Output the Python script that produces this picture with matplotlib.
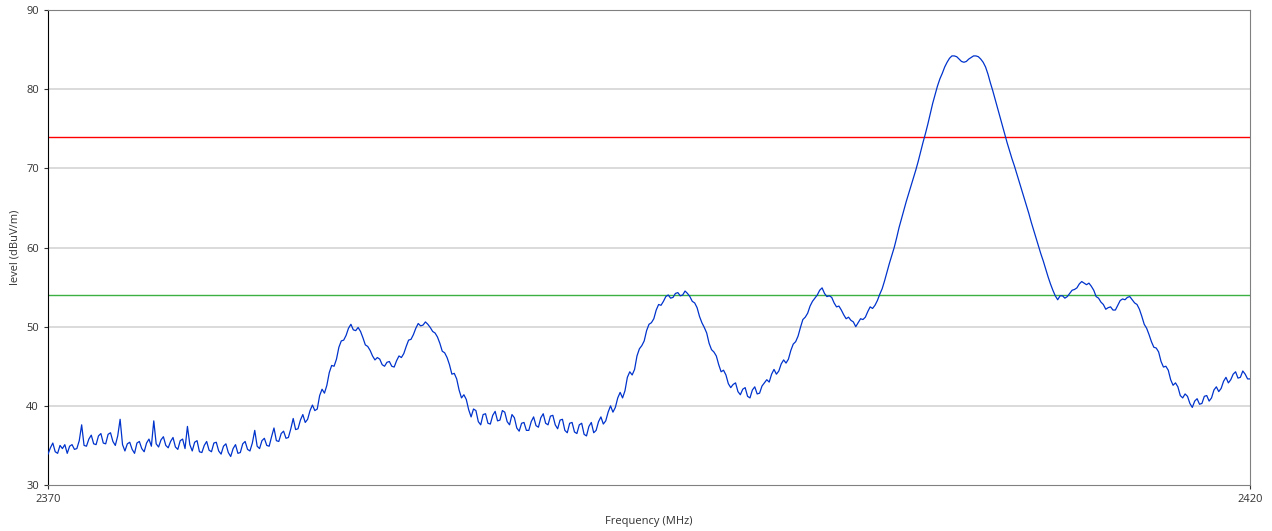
import numpy as np
import matplotlib
matplotlib.use("Agg")
import matplotlib.pyplot as plt

# trace, one value every 0.1 MHz from 2370 to 2420
# (one row per MHz)
level = [
    33.9, 34.7, 35.3, 34.2, 34.0, 35.0, 34.6, 35.1, 34.0, 34.9,  # 2370
    35.1, 34.5, 34.6, 35.6, 37.6, 35.0, 34.9, 35.8, 36.3, 35.2,
    35.1, 36.2, 36.5, 35.3, 35.2, 36.4, 36.6, 35.5, 35.0, 36.2,
    38.3, 35.1, 34.3, 35.2, 35.4, 34.5, 34.0, 35.3, 35.5, 34.6,
    34.2, 35.3, 35.8, 34.9, 38.1, 35.2, 34.8, 35.7, 36.1, 35.0,
    34.7, 35.5, 36.0, 34.8, 34.5, 35.6, 35.8, 34.6, 37.4, 35.1,  # 2375
    34.3, 35.4, 35.6, 34.2, 34.1, 35.0, 35.5, 34.4, 34.2, 35.3,
    35.4, 34.3, 33.9, 34.9, 35.2, 34.1, 33.6, 34.6, 35.1, 34.0,
    34.1, 35.2, 35.5, 34.5, 34.3, 35.3, 36.9, 34.9, 34.6, 35.6,
    35.9, 35.0, 34.9, 36.1, 37.2, 35.6, 35.5, 36.5, 36.8, 35.9,
    36.0, 37.1, 38.4, 37.0, 37.1, 38.2, 38.9, 37.9, 38.3, 39.4,  # 2380
    40.1, 39.4, 39.6, 41.3, 42.1, 41.6, 42.6, 44.2, 45.1, 45.0,
    45.9, 47.4, 48.2, 48.3, 48.9, 49.8, 50.3, 49.6, 49.5, 49.9,
    49.4, 48.6, 47.7, 47.5, 47.0, 46.3, 45.8, 46.1, 45.9, 45.2,
    45.0, 45.5, 45.6, 45.0, 44.9, 45.7, 46.3, 46.1, 46.6, 47.5,
    48.3, 48.4, 49.0, 49.8, 50.4, 50.1, 50.2, 50.6, 50.3, 49.9,  # 2385
    49.4, 49.2, 48.7, 47.9, 46.9, 46.7, 46.1, 45.2, 44.0, 44.1,
    43.4, 42.0, 41.0, 41.4, 40.8, 39.5, 38.6, 39.6, 39.4, 38.0,
    37.6, 38.9, 39.0, 37.8, 37.7, 38.8, 39.3, 38.1, 38.2, 39.4,
    39.2, 38.0, 37.6, 38.9, 38.5, 37.2, 36.8, 37.8, 37.9, 36.9,
    36.9, 38.0, 38.6, 37.5, 37.3, 38.5, 39.0, 37.8, 37.6, 38.7,  # 2390
    38.8, 37.6, 37.1, 38.2, 38.3, 36.9, 36.6, 37.8, 37.9, 36.7,
    36.5, 37.6, 37.8, 36.4, 36.2, 37.4, 37.9, 36.6, 36.9, 38.0,
    38.6, 37.7, 38.1, 39.2, 40.0, 39.2, 39.8, 41.0, 41.7, 41.0,
    41.9, 43.6, 44.3, 43.9, 44.6, 46.3, 47.2, 47.6, 48.2, 49.5,
    50.3, 50.5, 51.0, 52.1, 52.8, 52.7, 53.2, 53.8, 54.0, 53.6,  # 2395
    53.7, 54.2, 54.3, 53.9, 54.0, 54.5, 54.2, 53.8, 53.2, 53.0,
    52.4, 51.3, 50.5, 49.9, 49.2, 47.9, 47.1, 46.8, 46.3, 45.2,
    44.3, 44.5, 43.9, 42.8, 42.3, 42.7, 42.9, 41.8, 41.4, 42.1,
    42.3, 41.2, 41.0, 42.0, 42.4, 41.5, 41.6, 42.5, 42.9, 43.3,
    43.0, 44.0, 44.6, 44.0, 44.4, 45.3, 45.8, 45.4, 45.9, 47.0,  # 2400
    47.8, 48.1, 48.8, 49.9, 50.9, 51.2, 51.7, 52.6, 53.2, 53.6,
    54.0, 54.6, 54.9, 54.2, 53.8, 53.9, 53.7, 53.0, 52.5, 52.6,
    52.1, 51.5, 51.0, 51.2, 50.8, 50.6, 50.0, 50.5, 51.0, 50.9,
    51.2, 51.9, 52.5, 52.3, 52.7, 53.3, 54.1, 54.8, 55.8, 56.9,
    58.0, 59.0, 60.0, 61.2, 62.5, 63.6, 64.7, 65.8, 66.8, 67.8,  # 2405
    68.8, 69.8, 70.9, 72.1, 73.3, 74.4, 75.6, 76.9, 78.2, 79.3,
    80.4, 81.3, 82.0, 82.8, 83.4, 83.9, 84.2, 84.2, 84.1, 83.8,
    83.5, 83.4, 83.5, 83.8, 84.0, 84.2, 84.2, 84.1, 83.8, 83.4,
    82.8, 81.9, 80.8, 79.8, 78.7, 77.6, 76.5, 75.4, 74.3, 73.2,
    72.2, 71.2, 70.3, 69.3, 68.3, 67.3, 66.3, 65.3, 64.3, 63.2,  # 2410
    62.2, 61.2, 60.2, 59.2, 58.3, 57.3, 56.3, 55.4, 54.6, 53.9,
    53.4, 53.9, 53.9, 53.6, 53.8, 54.2, 54.6, 54.7, 54.9, 55.4,
    55.7, 55.5, 55.3, 55.5, 55.1, 54.6, 53.8, 53.6, 53.1, 52.8,
    52.2, 52.4, 52.5, 52.1, 52.1, 52.7, 53.3, 53.5, 53.4, 53.7,
    53.8, 53.4, 53.0, 52.8, 52.2, 51.3, 50.3, 49.8, 49.0, 48.1,  # 2415
    47.4, 47.3, 46.8, 45.6, 44.9, 45.0, 44.5, 43.3, 42.6, 42.9,
    42.4, 41.3, 41.0, 41.5, 41.2, 40.3, 39.8, 40.6, 40.9, 40.2,
    40.3, 41.2, 41.3, 40.6, 41.0, 42.0, 42.4, 41.8, 42.2, 43.1,
    43.6, 42.9, 43.3, 44.0, 44.3, 43.5, 43.6, 44.4, 44.0, 43.4,
    43.4,                                                        # 2420
]
f_start, f_stop = 2370, 2420
freq = np.linspace(f_start, f_stop, len(level))

limit_red = 74
limit_green = 54
y_ticks = [30, 40, 50, 60, 70, 80, 90]

plt.rcParams['font.family'] = ['Open Sans', 'DejaVu Sans']

fig = plt.figure(figsize=(12.72, 5.31), dpi=100)
ax = fig.add_axes([48/1272, 46/531, 1202/1272, 475/531])

for y in y_ticks[1:-1]:
    ax.axhline(y, color='#d4d4d4', lw=1.2, zorder=1)
ax.axhline(limit_red, color='#ff0000', lw=1.0, zorder=2)
ax.axhline(limit_green, color='#3cb043', lw=1.0, zorder=2)
ax.plot(freq, level, color='#0033cc', lw=0.9, zorder=3)

ax.set_xlim(f_start, f_stop)
ax.set_ylim(30, 90)
ax.set_yticks(y_ticks)
ax.set_xticks([f_start, f_stop])
ax.tick_params(axis='both', labelsize=8, colors='#333333', length=3, width=0.8)

for s in ['top', 'right', 'bottom']:
    ax.spines[s].set_color('#808080')
ax.spines['left'].set_color('black')

ax.set_xlabel('Frequency (MHz)', fontsize=8, color='#333333', labelpad=8)
ax.set_ylabel('level (dBuV/m)', fontsize=8, color='#333333', labelpad=4)

fig.savefig('out.png', dpi=100)
